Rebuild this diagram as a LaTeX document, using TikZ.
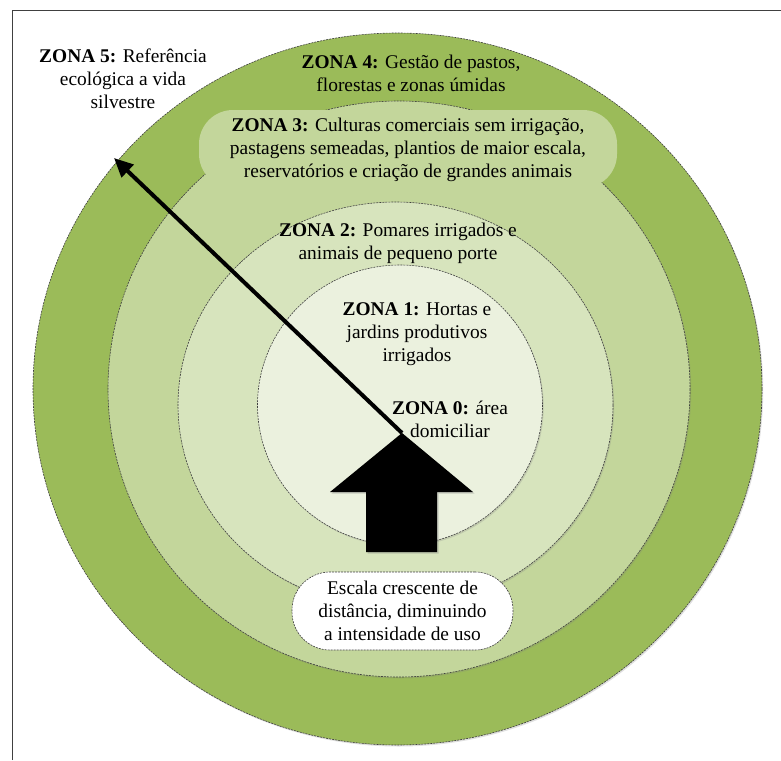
\documentclass[tikz,border=0pt]{standalone}
\usepackage{fontspec}
\setmainfont{Liberation Serif}
\usetikzlibrary{shadows,arrows.meta}
\definecolor{zcolfour}{HTML}{9BBB59}
\definecolor{zcolthree}{HTML}{C3D69B}
\definecolor{zcoltwo}{HTML}{D7E4BD}
\definecolor{zcolone}{HTML}{EBF1DE}
\begin{document}
\begin{tikzpicture}[x=1pt,y=-1pt,
  ring/.style={draw=black!75, dash pattern=on 2pt off 1pt, line width=0.6pt,
    drop shadow={shadow xshift=1.2pt,shadow yshift=-1.5pt,opacity=0.25}},
  lbl/.style={align=center, font=\fontsize{19.4}{23}\selectfont, inner sep=0pt}]
\useasboundingbox (0,0) rectangle (781,760);
\fill[white] (0,0) rectangle (781,760);
\draw[black!75, line width=0.8pt] (12,760) -- (12,10) -- (781,10);
% zones
\path[ring, fill=zcolfour] (397.5,389) ellipse [x radius=364.5, y radius=356];
\path[ring, fill=zcolthree] (399,389) ellipse [x radius=291, y radius=288];
\fill[zcolthree, rounded corners=34pt] (199,110) rectangle (617,188);
\path[ring, fill=zcoltwo] (395.5,405) ellipse [x radius=217.5, y radius=203];
\path[ring, fill=zcolone] (400,405) ellipse [x radius=142.5, y radius=140];
% escala box
\node[lbl, draw=black!75, dash pattern=on 2pt off 1pt, line width=0.6pt, fill=white,
  rounded corners=38pt, minimum width=221pt, minimum height=78pt] (escala) at (402.5,611)
  {Escala crescente de\\distância, diminuindo\\a intensidade de uso};
% arrows
\coordinate (hometip) at (402,433);
\coordinate (wild) at (114,158);
\draw[line width=4pt, -{Triangle[length=19pt,width=17pt]}] (hometip) -- (wild);
\fill[black, drop shadow={shadow xshift=1.5pt,shadow yshift=-1.5pt,opacity=0.35}]
  (hometip) -- (473,492) -- (437,492) -- (437,552) -- (366,552) -- (366,492) -- (330,492) -- cycle;
% labels
\node[lbl] (zfive) at (123,79) {\textbf{ZONA 5:} Referência\\ecológica a vida\\silvestre};
\node[lbl] (zfour) at (411,73) {\textbf{ZONA 4:} Gestão de pastos,\\florestas e zonas úmidas};
\node[lbl] (zthree) at (408,150) {\textbf{ZONA 3:} Culturas comerciais sem irrigação,\\pastagens semeadas, plantios de maior escala,\\reservatórios e criação de grandes animais};
\node[lbl] (ztwo) at (398,243) {\textbf{ZONA 2:} Pomares irrigados e\\animais de pequeno porte};
\node[lbl] (zone) at (417,334) {\textbf{ZONA 1:} Hortas e\\jardins produtivos\\irrigados};
\node[lbl] (zzero) at (450,419) {\textbf{ZONA 0:} área\\domiciliar};
\end{tikzpicture}
\end{document}
